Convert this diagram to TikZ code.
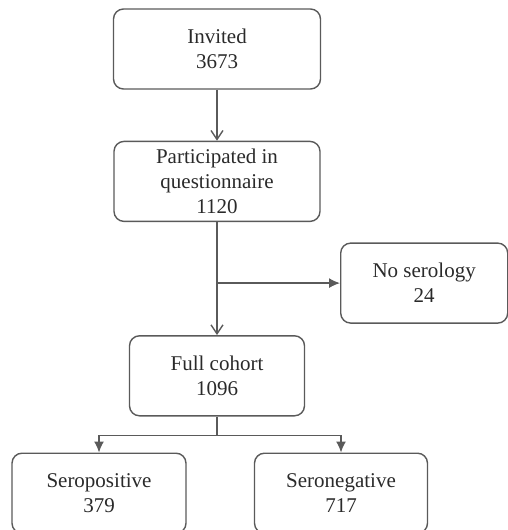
\documentclass[tikz,border=0pt]{standalone}
\usepackage{fontspec}
\setmainfont{Liberation Serif}
\usetikzlibrary{positioning,arrows.meta}
\definecolor{linegray}{HTML}{5A5A5A}
\definecolor{textgray}{HTML}{2A2A2A}

\begin{document}
\begin{tikzpicture}[x=1pt,y=1pt,
		box/.style={draw=linegray, line width=1.4pt, rounded corners=10pt, align=center, inner sep=2pt,
			text=textgray, minimum height=80pt, font=\fontsize{21}{25}\selectfont},
		flow/.style={draw=linegray, line width=1.4pt},
		barb/.style={-{Straight Barb[length=9pt,width=12pt]}},
		tip/.style={-{Latex[length=11pt,width=10pt]}}]
					
					\useasboundingbox (0,0) rectangle (508,-530);
					
					\node[box, minimum width=207pt]                       (inv)   at (217,-49) {Invited\\3673};
					\node[box, minimum width=206pt, below=51pt of inv]    (part)  {Participated in\\questionnaire\\1120};
					\node[box, minimum width=175pt, below=113pt of part]  (full)  {Full cohort\\1096};
					\coordinate[below=61pt of part.south]                 (split);
					\node[box, minimum width=167pt, right=123pt of split] (noser) {No serology\\24};
					\coordinate[below=19pt of full.south]                 (fork);
					\node[box, minimum width=174pt, below=36pt of full, xshift=-118pt] (pos) {Seropositive\\379};
					\node[box, minimum width=173pt, below=36pt of full, xshift=124pt]  (neg) {Seronegative\\717};
					
					
					\draw[flow, barb] (inv) -- (part) ;
					\draw[flow, barb] (part) -- (full) ;
					\draw[flow, tip] (split) -- (noser) ; %
					\draw[flow] (full) -- (fork) ;
					\draw[flow, tip] (fork) -| (pos) ;
					\draw[flow, tip] (fork) -| (neg) ;
					
				\end{tikzpicture}
\end{document}
